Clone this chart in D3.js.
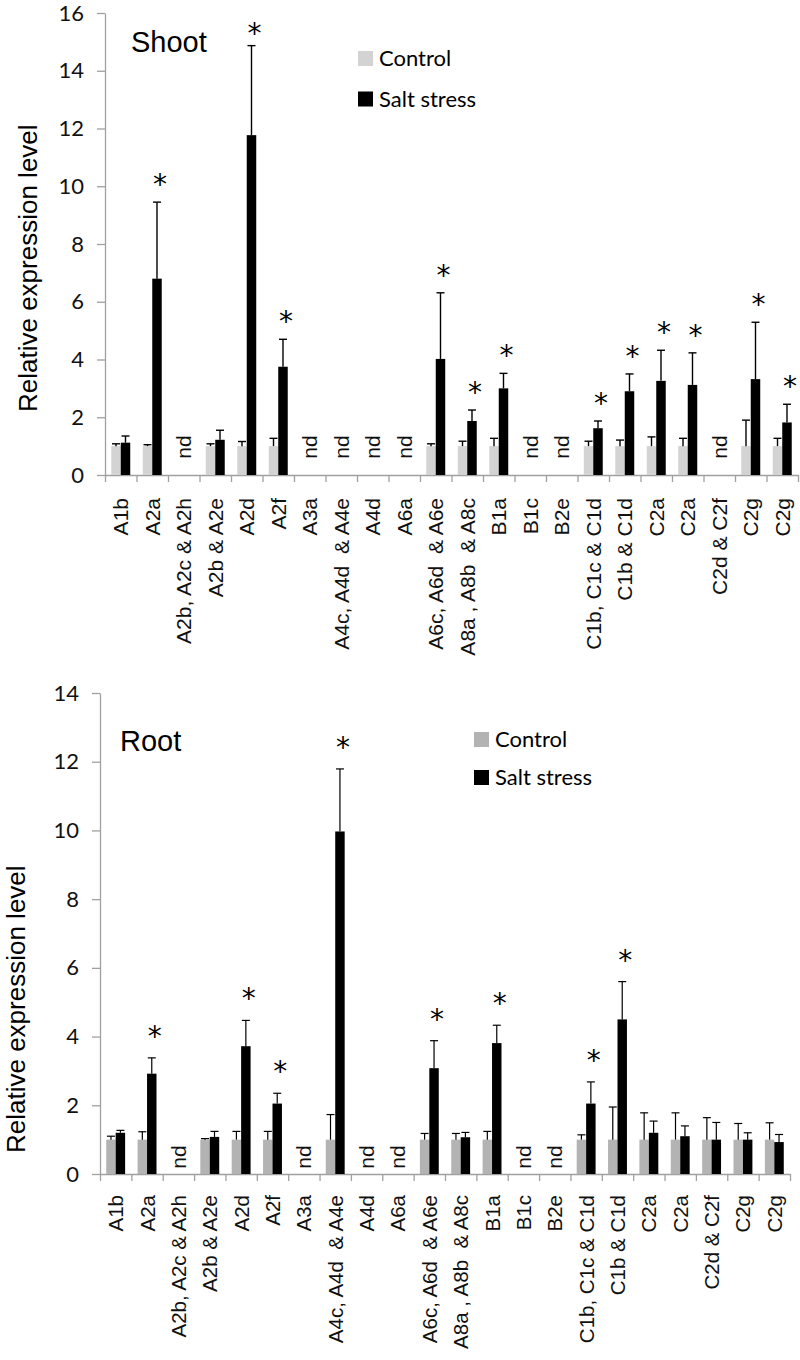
<!DOCTYPE html>
<html><head><meta charset="utf-8">
<script src="https://cdn.jsdelivr.net/npm/d3@7"></script>
<style>body{margin:0;background:#fff} text{white-space:pre}</style>
</head><body>
<svg id="c" width="800" height="1360" xmlns="http://www.w3.org/2000/svg"></svg>
<script>
// ---------- DATA ----------
const categories = ["A1b","A2a","A2b, A2c & A2h","A2b & A2e","A2d","A2f","A3a","A4c, A4d  & A4e","A4d","A6a","A6c, A6d  & A6e","A8a , A8b  & A8c","B1a","B1c","B2e","C1b, C1c & C1d","C1b & C1d","C2a","C2a","C2d & C2f","C2g","C2g"];
const seriesNames = ["Control","Salt stress"];

const shootControl    = [1.0,1.0,null,1.0,1.0,1.0,null,null,null,null,1.0,1.0,1.0,null,null,1.0,1.0,1.0,1.0,null,1.0,1.0];
const shootControlErr = [0.08,0.05,null,0.08,0.16,0.27,null,null,null,null,0.08,0.17,0.27,null,null,0.17,0.21,0.32,0.27,null,0.9,0.27];
const shootSalt       = [1.12,6.8,null,1.22,11.77,3.75,null,null,null,null,4.02,1.87,3.0,null,null,1.62,2.9,3.26,3.12,null,3.32,1.82];
const shootSaltErr    = [0.23,2.65,null,0.33,3.1,0.95,null,null,null,null,2.29,0.38,0.52,null,null,0.25,0.6,1.06,1.11,null,1.97,0.63];
const shootSig        = ["","*","","","*","*","","","","","*","*","*","","","*","*","*","*","","*","*"];

const rootControl     = [1.0,1.0,null,1.0,1.0,1.0,null,1.0,null,null,1.0,1.0,1.0,null,null,1.0,1.0,1.0,1.0,1.0,1.0,1.0];
const rootControlErr  = [0.1,0.23,null,0.03,0.24,0.24,null,0.73,null,null,0.18,0.18,0.24,null,null,0.14,0.95,0.78,0.78,0.64,0.47,0.49];
const rootSalt        = [1.2,2.92,null,1.08,3.72,2.05,null,9.97,null,null,3.08,1.07,3.81,null,null,2.05,4.5,1.2,1.1,1.0,1.0,0.93];
const rootSaltErr     = [0.07,0.46,null,0.16,0.75,0.3,null,1.82,null,null,0.8,0.14,0.52,null,null,0.63,1.1,0.34,0.3,0.5,0.2,0.22];
const rootSig         = ["","*","","","*","*","","*","","","*","","*","","","*","*","","","","",""];

const shootTicks = [0,2,4,6,8,10,12,14,16];
const rootTicks  = [0,2,4,6,8,10,12,14];

// ---------- DRAW ----------
const svg = d3.select("#c");
const ARIAL = "'Liberation Sans', Arial, sans-serif";
const CAL = "Lato, 'Open Sans', sans-serif";

function panel(o){
  const g = svg.append("g");
  const y = d3.scaleLinear().domain([0, o.ymax]).range([o.y0, o.y1]);
  const x = d3.scaleBand().domain(d3.range(categories.length)).range([o.x0, o.x1]).padding(0);
  const xs = d3.scaleBand().domain(seriesNames).range([0, x.bandwidth()]).paddingInner(0).paddingOuter(0.66);
  const xb = d3.scaleLinear().domain([0, categories.length]).range([o.x0, o.x1]);

  // y axis
  const ya = g.append("g").attr("transform",`translate(${o.x0},0)`)
    .call(d3.axisLeft(y).tickValues(o.ticks).tickSize(8).tickSizeOuter(0).tickPadding(o.tpad).tickFormat(d3.format("d")));
  ya.select(".domain").attr("stroke","#a0a0a0").attr("stroke-width",1.3);
  ya.selectAll(".tick line").attr("stroke","#a0a0a0").attr("stroke-width",1.3);
  ya.selectAll(".tick text").attr("font-family",CAL).attr("font-size",22).attr("fill","#111");

  // x axis (boundary ticks)
  const xa = g.append("g").attr("transform",`translate(0,${o.y0})`)
    .call(d3.axisBottom(xb).tickValues(d3.range(categories.length+1)).tickSize(7).tickSizeOuter(0).tickFormat(""));
  xa.select(".domain").attr("stroke","#a0a0a0").attr("stroke-width",1.3);
  xa.selectAll(".tick line").attr("stroke","#a0a0a0").attr("stroke-width",1.3);

  // x labels
  g.append("g").selectAll("text").data(categories).join("text")
    .attr("transform",(d,i)=>`translate(${x(i)+x.bandwidth()/2+7.5},${o.y0+o.labOff}) rotate(-90)`)
    .attr("text-anchor","end")
    .attr("font-family",ARIAL).attr("font-size",o.labSize).attr("fill","#111")
    .text(d=>d);

  const series = [
    {name:"Control", v:o.c, e:o.ce, color:o.cColor},
    {name:"Salt stress", v:o.s, e:o.se, color:"#000"}
  ];
  series.forEach(s=>{
    const idx = d3.range(categories.length).filter(i=>s.v[i]!=null);
    g.append("g").selectAll("rect").data(idx).join("rect")
      .attr("x",i=>x(i)+xs(s.name)).attr("width",xs.bandwidth())
      .attr("y",i=>y(s.v[i])).attr("height",i=>y(0)-y(s.v[i]))
      .attr("fill",s.color);
    const eg = g.append("g").attr("stroke","#000").attr("stroke-width",o.ew);
    idx.forEach(i=>{
      const cx = x(i)+xs(s.name)+xs.bandwidth()/2;
      const top = y(s.v[i]+s.e[i]);
      eg.append("line").attr("x1",cx).attr("x2",cx).attr("y1",y(s.v[i])).attr("y2",top);
      eg.append("line").attr("x1",cx-4).attr("x2",cx+4).attr("y1",top).attr("y2",top);
    });
  });

  // significance
  g.append("g").selectAll("text").data(d3.range(categories.length).filter(i=>o.sig[i])).join("text")
    .attr("x",i=>x(i)+xs("Salt stress")+xs.bandwidth()/2+3)
    .attr("y",i=>Math.max(y(o.s[i]+o.se[i])-o.sgap, o.y1+14)+16)
    .attr("text-anchor","middle").attr("font-family","'DejaVu Sans', sans-serif").attr("font-size",28).attr("fill","#000")
    .text(i=>o.sig[i]);

  // nd labels
  g.append("g").selectAll("text").data(d3.range(categories.length).filter(i=>o.c[i]==null && o.s[i]==null)).join("text")
    .attr("transform",i=>`translate(${x(i)+x.bandwidth()/2+7.5},${o.y0-o.ndOff}) rotate(-90)`)
    .attr("text-anchor","middle").attr("font-family",ARIAL).attr("font-size",21).attr("fill","#111")
    .text("nd");

  // y title
  g.append("text").attr("transform",`translate(${o.titleX},${o.titleY}) rotate(-90)`)
    .attr("text-anchor","start").attr("font-family",ARIAL).attr("font-size",26).attr("fill","#000")
    .text("Relative expression level");

  // panel label
  g.append("text").attr("x",o.lx).attr("y",o.ly).attr("font-family",ARIAL).attr("font-size",29).attr("fill","#000").text(o.label);

  // legend
  const lg = g.append("g");
  [o.cColor,"#000"].forEach((col,k)=>{
    lg.append("rect").attr("x",o.legX).attr("y",o.legY[k]-15).attr("width",15).attr("height",15).attr("fill",col);
    lg.append("text").attr("x",o.legX+21).attr("y",o.legY[k]).attr("font-family",CAL).attr("font-size",22).attr("fill","#000").text(seriesNames[k]);
  });
}

panel({x0:105,x1:798,y0:475,y1:13,ymax:16,ticks:shootTicks,tpad:13,labOff:23,labSize:21,
  c:shootControl,ce:shootControlErr,s:shootSalt,se:shootSaltErr,sig:shootSig,
  cColor:"#d3d3d3",ew:1.4,sgap:24,ndOff:28,titleX:37,titleY:412,
  lx:131,ly:52,label:"Shoot",legX:358,legY:[66,106.5]});

panel({x0:100,x1:790,y0:1174,y1:693,ymax:14,ticks:rootTicks,tpad:13,labOff:21,labSize:20.5,
  c:rootControl,ce:rootControlErr,s:rootSalt,se:rootSaltErr,sig:rootSig,
  cColor:"#b3b3b3",ew:1.2,sgap:28,ndOff:17,titleX:25,titleY:1153,
  lx:120,ly:751,label:"Root",legX:474,legY:[747,785]});
</script>
</body></html>
